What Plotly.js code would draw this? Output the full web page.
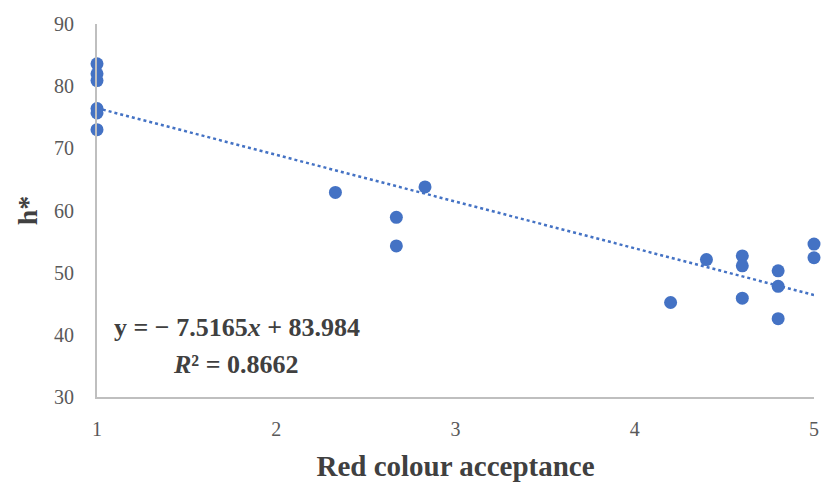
<!DOCTYPE html>
<html><head><meta charset="utf-8">
<script src="https://cdn.plot.ly/plotly-3.0.1.min.js"></script>
<style>html,body{margin:0;padding:0;background:#fff}#chart{width:823px;height:490px}</style>
</head><body><div id="chart"></div>
<script>
const acceptance = [1,1,1,1,1,1, 2.33, 2.67,2.67, 2.83, 4.2, 4.4, 4.6,4.6,4.6, 4.8,4.8,4.8, 5,5];
const hStar      = [83.6,82.0,80.9,76.4,75.7,73.0, 62.9, 58.9,54.3, 63.8, 45.2, 52.1, 52.7,51.1,45.9, 50.3,47.8,42.6, 54.6,52.4];
const slope = -7.5165, intercept = 83.984, r2 = 0.8662;
const trendX = [1, 5];
const trendY = trendX.map(x => slope*x + intercept);
const xTicks = [1,2,3,4,5];
const yTicks = [30,40,50,60,70,80,90];
const serif = "Liberation Serif, DejaVu Serif, serif";

const data = [
  {x: trendX, y: trendY, type:'scatter', mode:'lines', cliponaxis:false,
   line:{color:'#4472C4', width:2.5, dash:'dot'}, hoverinfo:'skip'},
  {x: acceptance, y: hStar, type:'scatter', mode:'markers', cliponaxis:false,
   marker:{color:'#4472C4', size:13}}
];
const layout = {
  width:823, height:490, showlegend:false,
  margin:{l:97, r:9, t:24, b:93},
  paper_bgcolor:'#fff', plot_bgcolor:'#fff',
  font:{family:serif, color:'#595959'},
  xaxis:{range:[1,5], tickvals:xTicks, showgrid:false, zeroline:false,
    showline:true, linecolor:'#BFBFBF', linewidth:2, ticks:'', ticklabelstandoff:13,
    tickfont:{size:20, color:'#595959', family:serif},
    title:{text:'<b>Red colour acceptance</b>', font:{size:29, color:'#404040', family:serif}, standoff:17}},
  yaxis:{range:[30,90], tickvals:yTicks, showgrid:false, zeroline:false,
    showline:true, linecolor:'#BFBFBF', linewidth:2, ticks:'', ticklabelstandoff:17,
    tickfont:{size:20, color:'#595959', family:serif},
    title:{text:'<b>h*</b>', font:{size:28, color:'#404040', family:serif}, standoff:8}},
  annotations:[
    {xref:'paper', yref:'paper', x:0.021, y:0.185, xanchor:'left', yanchor:'middle', showarrow:false,
     text:'<b>y = − 7.5165<i>x</i> + 83.984</b>', font:{size:26, color:'#404040', family:serif}},
    {xref:'paper', yref:'paper', x:0.103, y:0.086, xanchor:'left', yanchor:'middle', showarrow:false,
     text:'<b><i>R</i>² = ' + r2.toFixed(4) + '</b>', font:{size:26, color:'#404040', family:serif}}
  ]
};
Plotly.newPlot('chart', data, layout, {staticPlot:true});
</script></body></html>
